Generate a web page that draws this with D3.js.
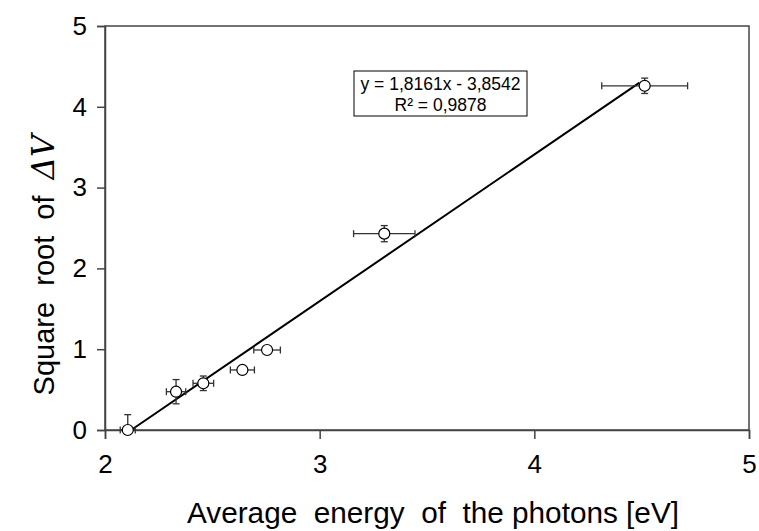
<!DOCTYPE html>
<html>
<head>
<meta charset="utf-8">
<script src="https://cdn.jsdelivr.net/npm/d3@7"></script>
<style>
  body { margin: 0; background: #fff; }
  svg { display: block; font-family: "Liberation Sans", Arial, sans-serif; }
  .keep-space { white-space: pre; }
</style>
</head>
<body>
<svg id="chart" width="759" height="531"></svg>
<script>
// photon energy vs sqrt(dV) data
const energy = [2.106, 2.331, 2.458, 2.64, 2.755, 3.301, 4.514];
const sqrtDV = [0.0, 0.474, 0.578, 0.743, 0.99, 2.43, 4.26];
const energyErr = [0.035, 0.045, 0.048, 0.056, 0.062, 0.143, 0.2];
const sqrtDVErr = [0.19, 0.15, 0.09, 0.03, 0.03, 0.1, 0.095];
const xTicks = [2, 3, 4, 5];
const yTicks = [0, 1, 2, 3, 4, 5];
const fitSlope = 1.8161;
const fitIntercept = -3.8542;
const fitRange = [2.122, 4.49];
const fitLabels = ['y = 1,8161x - 3,8542', 'R² = 0,9878'];

(function() {
    const svg = d3.select('#chart');
    const margin = { top: 26, right: 10, bottom: 101, left: 105 };
    const plotWidth = 759 - margin.left - margin.right;
    const plotHeight = 531 - margin.top - margin.bottom;
    const axisColor = '#444';

    const g = svg.append('g')
        .attr('transform', `translate(${margin.left}, ${margin.top})`);

    const xScale = d3.scaleLinear().domain([2, 5]).range([0, plotWidth]);
    const yScale = d3.scaleLinear().domain([0, 5]).range([plotHeight, 0]);

    // frame
    g.append('rect')
        .attr('width', plotWidth)
        .attr('height', plotHeight)
        .attr('fill', 'none')
        .attr('stroke', axisColor)
        .attr('stroke-width', 1.5);

    // axes
    const xAxis = g.append('g')
        .attr('transform', `translate(0, ${plotHeight})`)
        .call(d3.axisBottom(xScale).tickValues(xTicks).tickSize(9).tickPadding(16).tickFormat(d3.format('d')));
    const yAxis = g.append('g')
        .call(d3.axisLeft(yScale).tickValues(yTicks).tickSize(8).tickPadding(10).tickFormat(d3.format('d')));

    [xAxis, yAxis].forEach(ax => {
        ax.select('.domain').attr('stroke', axisColor).attr('stroke-width', 1.5);
        ax.selectAll('.tick line').attr('stroke', axisColor).attr('stroke-width', 1.5);
        ax.selectAll('.tick text')
            .attr('fill', '#000')
            .attr('font-size', '26px')
            .attr('font-family', '"Liberation Sans", Arial, sans-serif');
    });

    // axis titles
    svg.append('text')
        .attr('class', 'keep-space')
        .attr('x', 433)
        .attr('y', 523)
        .attr('text-anchor', 'middle')
        .attr('font-size', '30px')
        .attr('textLength', 492)
        .attr('lengthAdjust', 'spacingAndGlyphs')
        .text('Average  energy  of  the photons [eV]');

    const yTitle = svg.append('text')
        .attr('class', 'keep-space')
        .attr('transform', 'translate(54, 265) rotate(-90)')
        .attr('text-anchor', 'middle')
        .attr('font-size', '29px');
    yTitle.append('tspan').text('Square  root  of  ');
    yTitle.append('tspan')
        .attr('font-family', '"DejaVu Serif", serif')
        .attr('font-style', 'italic')
        .attr('font-size', '31px')
        .text('ΔV');

    // trend line
    const line = d3.line()
        .x(d => xScale(d))
        .y(d => yScale(fitSlope * d + fitIntercept));
    g.append('path')
        .datum(fitRange)
        .attr('fill', 'none')
        .attr('stroke', '#000')
        .attr('stroke-width', 2)
        .attr('d', line);

    // error bars
    const cap = 3.5;
    const errG = g.append('g').attr('stroke', '#333').attr('stroke-width', 1.3);
    energy.forEach((x, i) => {
        const cx = xScale(x), cy = yScale(sqrtDV[i]);
        const x0 = xScale(x - energyErr[i]), x1 = xScale(x + energyErr[i]);
        const y0 = yScale(Math.max(0, sqrtDV[i] - sqrtDVErr[i])), y1 = yScale(sqrtDV[i] + sqrtDVErr[i]);
        errG.append('line').attr('x1', x0).attr('x2', x1).attr('y1', cy).attr('y2', cy);
        errG.append('line').attr('x1', x0).attr('x2', x0).attr('y1', cy - cap).attr('y2', cy + cap);
        errG.append('line').attr('x1', x1).attr('x2', x1).attr('y1', cy - cap).attr('y2', cy + cap);
        errG.append('line').attr('x1', cx).attr('x2', cx).attr('y1', y0).attr('y2', y1);
        errG.append('line').attr('x1', cx - cap).attr('x2', cx + cap).attr('y1', y1).attr('y2', y1);
        if (sqrtDV[i] - sqrtDVErr[i] > 0) {
            errG.append('line').attr('x1', cx - cap).attr('x2', cx + cap).attr('y1', y0).attr('y2', y0);
        }
    });

    // markers
    g.selectAll('.dot')
        .data(energy)
        .enter().append('circle')
        .attr('class', 'dot')
        .attr('cx', d => xScale(d))
        .attr('cy', (d, i) => yScale(sqrtDV[i]))
        .attr('r', 5.5)
        .attr('fill', '#fff')
        .attr('stroke', '#000')
        .attr('stroke-width', 1.2);

    // equation box
    const box = svg.append('g').attr('transform', 'translate(354, 71)');
    box.append('rect')
        .attr('width', 173)
        .attr('height', 45)
        .attr('fill', '#fff')
        .attr('stroke', '#000')
        .attr('stroke-width', 1);
    fitLabels.forEach((t, i) => {
        box.append('text')
            .attr('x', 86.5)
            .attr('y', 19 + i * 21)
            .attr('text-anchor', 'middle')
            .attr('font-size', '17.5px')
            .text(t);
    });
})();
</script>
</body>
</html>
